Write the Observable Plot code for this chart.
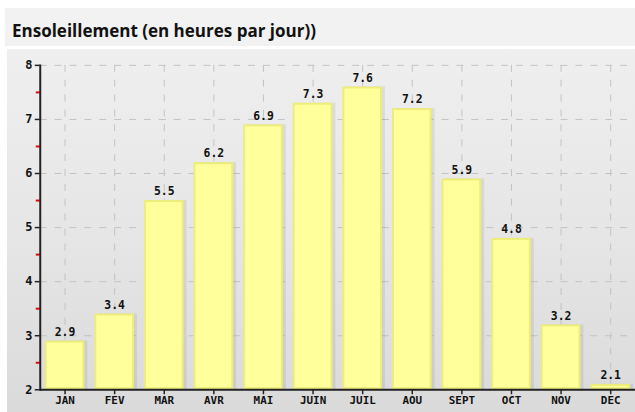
<!DOCTYPE html>
<html><head><meta charset="utf-8">
<script src="https://cdn.jsdelivr.net/npm/d3@7"></script>
<script src="https://cdn.jsdelivr.net/npm/@observablehq/plot@0.6"></script>
<style>
body{margin:0;background:#fff;width:635px;height:412px;overflow:hidden;position:relative;}
#title{position:absolute;left:5px;top:8px;width:630px;height:38px;background:#f2f2f2;font-family:"Open Sans",sans-serif;font-weight:bold;font-size:17px;line-height:46px;padding-left:7px;box-sizing:border-box;color:#111;}
#chart{position:absolute;left:7px;top:49px;width:628px;height:363px;overflow:hidden;background:linear-gradient(180deg,#efefef 0%,#e6e6e6 50%,#dadada 100%);}
#chart svg{position:absolute;left:0;top:0;}
</style></head>
<body>
<div id="title">Ensoleillement (en heures par jour))</div>
<div id="chart"></div>
<script>
const months = ["JAN","FEV","MAR","AVR","MAI","JUIN","JUIL","AOU","SEPT","OCT","NOV","DEC"];
const hours = [2.9,3.4,5.5,6.2,6.9,7.3,7.6,7.2,5.9,4.8,3.2,2.1];
const yTicks = [2,3,4,5,6,7,8];
const yMinor = [2.5,3.5,4.5,5.5,6.5,7.5];

const data = months.map((m,i)=>({month:m, value:hours[i]}));
const font = "'DejaVu Sans Mono', monospace";

const plot = Plot.plot({
  width: 633,
  height: 363,
  marginLeft: 33,
  marginRight: 0,
  marginTop: 16,
  marginBottom: 20,
  style: {background: "transparent", fontFamily: font, fontSize: "11px", fontWeight: "bold", color: "#111"},
  x: {domain: months, paddingInner: 0.2, paddingOuter: 0.1, align: 0.5, label: null},
  y: {domain: [2, 8], label: null},
  marks: [
    Plot.gridX({stroke: "#c2c2c2", strokeOpacity: 1, strokeDasharray: "7,8", y1: 8, y2: 2}),
    Plot.gridY(yTicks, {stroke: "#c2c2c2", strokeOpacity: 1, strokeDasharray: "7,8"}),
    Plot.barY(data, {x: "month", y1: 2, y2: "value", dx: 3, fill: "#000", fillOpacity: 0.07}),
    Plot.barY(data, {x: "month", y1: 2, y2: "value", fill: "#ffff9c", stroke: "#eded7a", strokeWidth: 2, inset: 1}),
    Plot.text(data, {x: "month", y: "value", text: d => d.value.toFixed(1), dy: -9, fill: "#111", fontFamily: font, fontSize: 11.5, fontWeight: "bold"}),
    Plot.axisY(yMinor, {tickSize: 4, stroke: "#e00", strokeWidth: 2, tickFormat: () => ""}),
    Plot.axisY(yTicks, {tickSize: 5, tickPadding: 3, stroke: "#222", strokeWidth: 1.5, fontSize: 12, fontWeight: "bold", tickFormat: d3.format("d")}),
    Plot.axisX({tickSize: 5, tickPadding: 2, stroke: "#222", strokeWidth: 1.5, fontSize: 11, fontWeight: "bold"}),
    Plot.ruleY([2], {stroke: "#222", strokeWidth: 2}),
    Plot.frame({anchor: "left", stroke: "#222", strokeWidth: 2})
  ]
});
document.getElementById("chart").appendChild(plot);
</script>
</body></html>
